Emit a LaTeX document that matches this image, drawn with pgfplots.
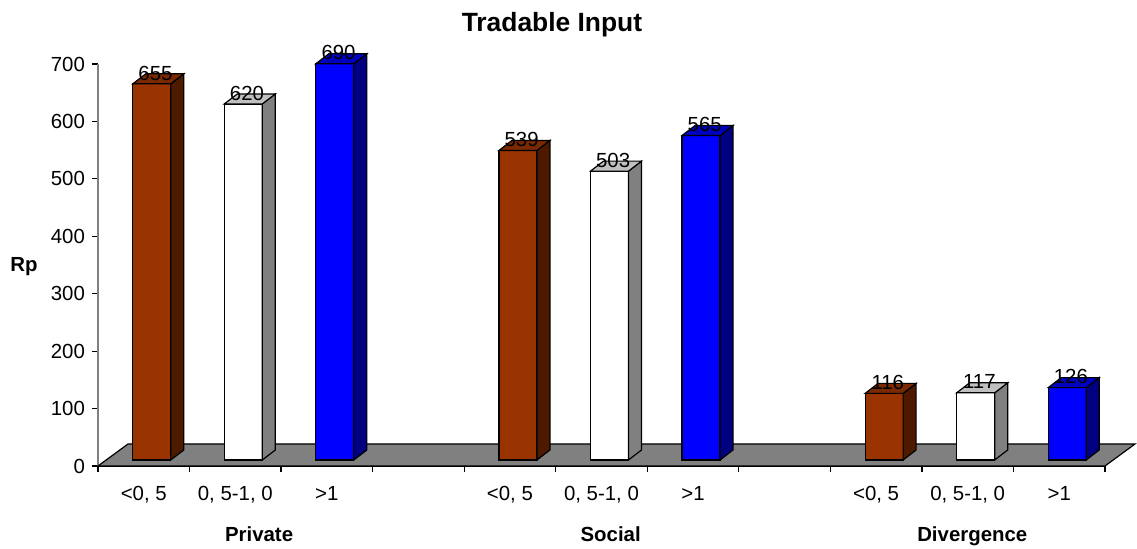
\documentclass[border=0pt]{standalone}
\usepackage{fontspec}
\setmainfont{Liberation Sans}
\usepackage{pgfplots}
\pgfplotsset{compat=1.18}

\definecolor{brownfront}{RGB}{153,51,0}
\definecolor{brownside}{RGB}{77,26,0}
\definecolor{browntop}{RGB}{122,41,0}
\definecolor{whiteside}{RGB}{128,128,128}
\definecolor{whitetop}{RGB}{192,192,192}
\definecolor{bluefront}{RGB}{0,0,255}
\definecolor{blueside}{RGB}{0,0,128}
\definecolor{bluetop}{RGB}{0,0,192}
\definecolor{floorgray}{RGB}{128,128,128}

\newcommand{\lbl}{\fontsize{10.2}{12}\selectfont}

% 3d bar: slot, value, front, side, top
\newcommand{\tdbar}[5]{%
  \pgfmathsetmacro\tdxa{#1-0.1201}%
  \pgfmathsetmacro\tdxb{#1+0.2949}%
  \pgfmathsetmacro\tdxc{#1+0.4369}%
  \pgfmathsetmacro\tdxd{#1+0.0219}%
  \pgfmathsetmacro\tdxl{#1+0.1274}%
  \pgfmathsetmacro\tdya{#2+10.45}%
  \pgfmathsetmacro\tdyb{#2+27.86}%
  \pgfmathsetmacro\tdyl{#2+17.1}%
  \edef\tdcmd{%
    \noexpand\addplot[draw=black, line width=0.6pt, fill=#3] coordinates {(\tdxa,10.45) (\tdxb,10.45) (\tdxb,\tdya) (\tdxa,\tdya)} -- cycle;
    \noexpand\addplot[draw=black, line width=0.6pt, fill=#4] coordinates {(\tdxb,10.45) (\tdxc,27.86) (\tdxc,\tdyb) (\tdxb,\tdya)} -- cycle;
    \noexpand\addplot[draw=black, line width=0.6pt, fill=#5] coordinates {(\tdxa,\tdya) (\tdxb,\tdya) (\tdxc,\tdyb) (\tdxd,\tdyb)} -- cycle;
    \noexpand\node[anchor=base, font=\noexpand\lbl, inner sep=0pt] at (axis cs:\tdxl,\tdyl) {#2};
  }\tdcmd}

\begin{document}
\begin{tikzpicture}
\begin{axis}[
  name=ax,
  scale only axis,
  width=503.5pt, height=201pt,
  xmin=-0.5, xmax=10.5,
  ymin=0, ymax=700,
  clip=false,
  axis x line*=bottom,
  axis y line*=left,
  x axis line style={black, line width=0.6pt},
  y axis line style={gray, line width=0.6pt},
  xtick={-0.5,0.5,...,10.5},
  xticklabels={},
  extra x ticks={0,1,2,4,5,6,8,9,10},
  extra x tick labels={{<0, 5},{0, 5-1, 0},{>1},{<0, 5},{0, 5-1, 0},{>1},{<0, 5},{0, 5-1, 0},{>1}},
  extra x tick style={tick style={draw=none}, xticklabel style={yshift=-3.6pt}},
  ytick={0,100,...,700},
  tick align=outside,
  major tick length=3pt,
  tick style={black, line width=0.6pt},
  ticklabel style={font=\lbl},
  /pgf/number format/assume math mode=true,
  title={Tradable Input},
  title style={font=\bfseries\fontsize{13.2}{15}\selectfont, at={(rel axis cs:0.4508,1)}, anchor=base, yshift=10pt},
]
\addplot[draw=black, line width=0.6pt, fill=floorgray] coordinates {(-0.5,0) (10.5,0) (10.8277,38.31) (-0.1723,38.31)} -- cycle;

\tdbar{0}{655}{brownfront}{brownside}{browntop}
\tdbar{1}{620}{white}{whiteside}{whitetop}
\tdbar{2}{690}{bluefront}{blueside}{bluetop}
\tdbar{4}{539}{brownfront}{brownside}{browntop}
\tdbar{5}{503}{white}{whiteside}{whitetop}
\tdbar{6}{565}{bluefront}{blueside}{bluetop}
\tdbar{8}{116}{brownfront}{brownside}{browntop}
\tdbar{9}{117}{white}{whiteside}{whitetop}
\tdbar{10}{126}{bluefront}{blueside}{bluetop}

\node[font=\bfseries\lbl, anchor=base, yshift=-38pt] at (axis cs:1.26,0) {Private};
\node[font=\bfseries\lbl, anchor=base, yshift=-38pt] at (axis cs:5.10,0) {Social};
\node[font=\bfseries\lbl, anchor=base, yshift=-38pt] at (axis cs:9.05,0) {Divergence};
\node[font=\bfseries\lbl, xshift=-37pt, yshift=-1pt] at (rel axis cs:0,0.5) {Rp};
\end{axis}
\pgfresetboundingbox
\path[use as bounding box] ([shift={(-49pt,-41.5pt)}]ax.south west) rectangle ([shift={(519.5pt,233pt)}]ax.south west);
\end{tikzpicture}
\end{document}
